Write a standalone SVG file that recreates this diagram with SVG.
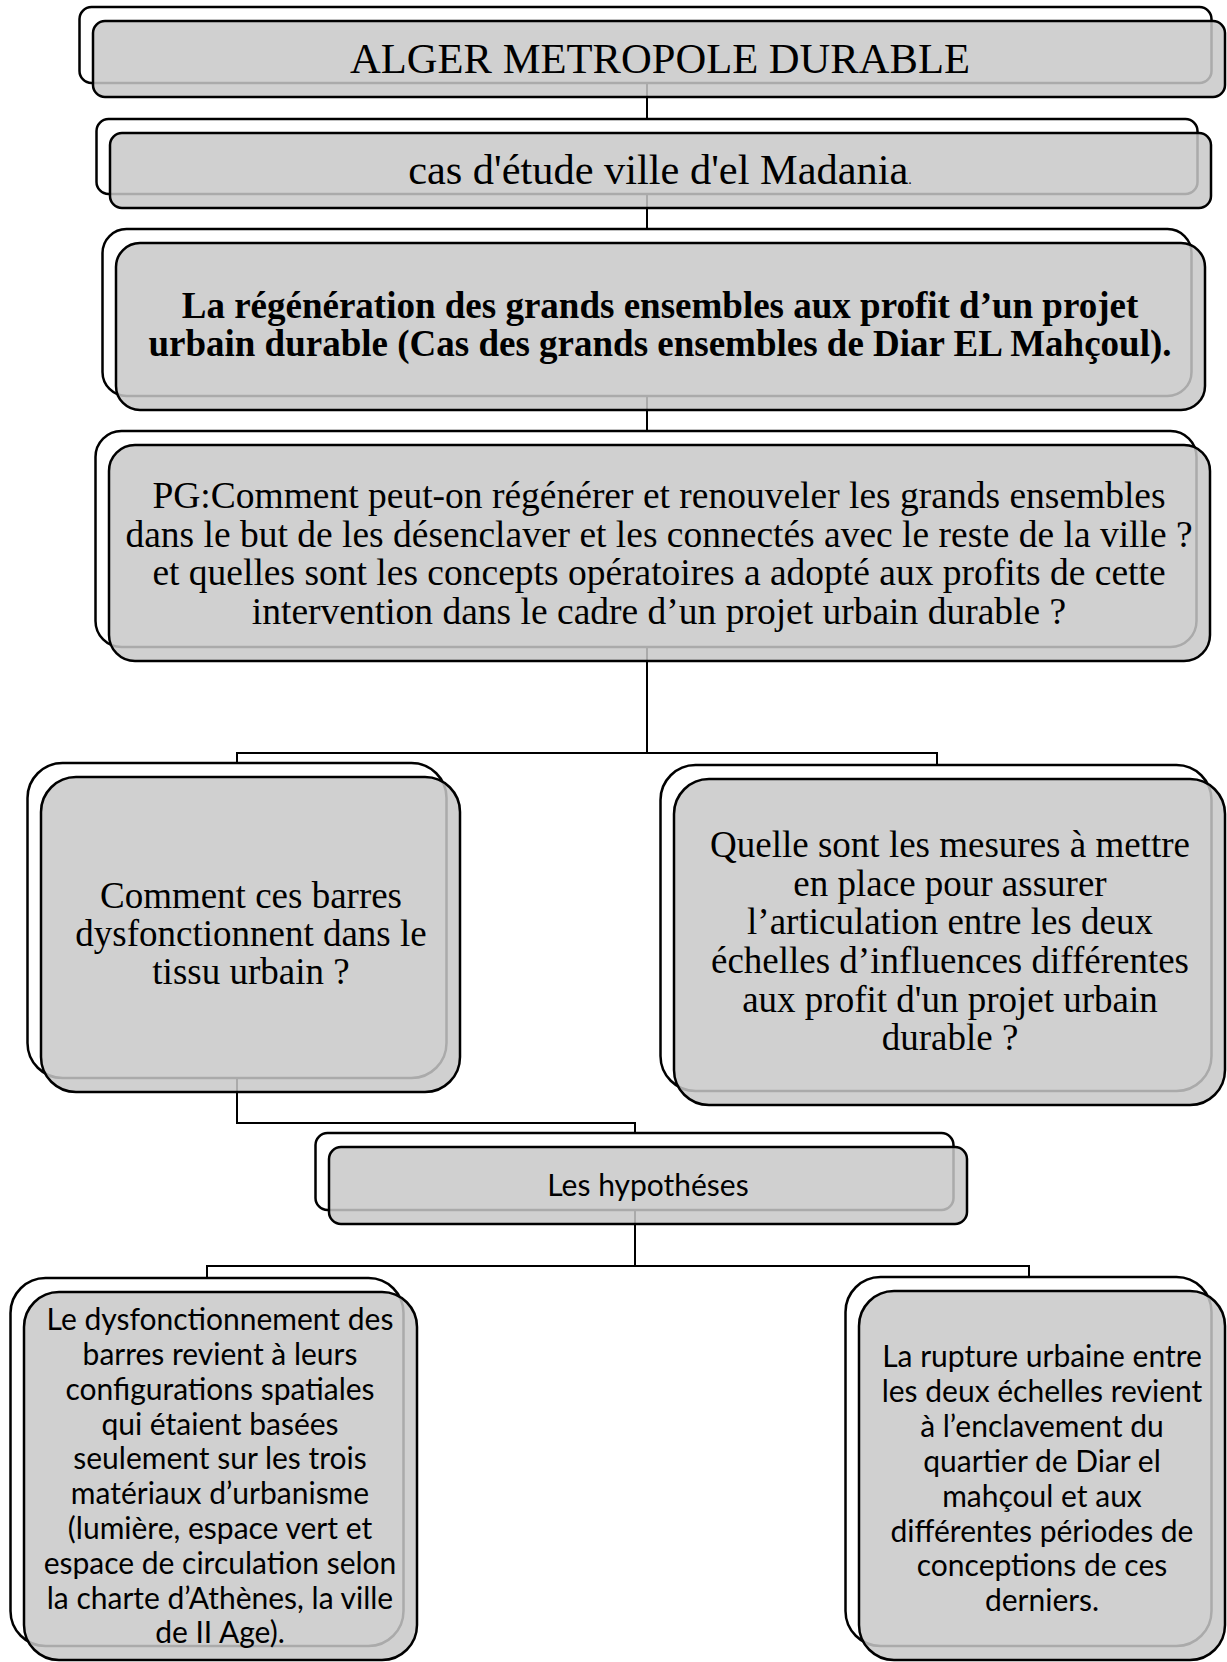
<svg xmlns="http://www.w3.org/2000/svg" width="1227" height="1662" viewBox="0 0 1227 1662">
<style>
.back{fill:#fff;stroke:#000;stroke-width:2.5}
.front{fill:#c8c8c8;fill-opacity:.85;stroke:#000;stroke-width:2.5}
.conn{fill:none;stroke:#000;stroke-width:2}
.serif{font-family:"Liberation Serif","Times New Roman",serif;fill:#000;text-anchor:middle}
.sans{font-family:Lato,"Open Sans",sans-serif;fill:#000;text-anchor:middle;font-size:30px}
</style>
<rect width="1227" height="1662" fill="#fff"/>
<g id="connectors">
<path class="conn" d="M647 60 V150"/>
<path class="conn" d="M647 170 V320"/>
<path class="conn" d="M647 330 V540"/>
<path class="conn" d="M647 550 V753 H237 V900"/>
<path class="conn" d="M647 550 V753 H937 V900"/>
<path class="conn" d="M237 930 V1123 H635 V1180"/>
<path class="conn" d="M635 1185 V1266 H207 V1400"/>
<path class="conn" d="M635 1185 V1266 H1029 V1400"/>
</g>
<g id="n1">
<rect class="back" x="79.5" y="7" width="1132" height="76" rx="12"/>
<rect class="front" x="93" y="21" width="1132" height="76" rx="12"/>
<text class="serif" x="660" y="73" font-size="42.6">ALGER METROPOLE DURABLE</text>
</g>
<g id="n2">
<rect class="back" x="96.5" y="119" width="1101" height="75" rx="12"/>
<rect class="front" x="110" y="133" width="1101" height="75" rx="12"/>
<text class="serif" x="660" y="184" font-size="42.4">cas d'étude ville d'el Madania<tspan font-size="14">.</tspan></text>
</g>
<g id="n3">
<rect class="back" x="102.5" y="229" width="1089" height="167" rx="24"/>
<rect class="front" x="116" y="243" width="1089" height="167" rx="24"/>
<text class="serif" font-size="37" font-weight="bold"><tspan x="660" y="318">La régénération des grands ensembles aux profit d’un projet</tspan><tspan x="660" y="356">urbain durable (Cas des grands ensembles de Diar EL Mahçoul).</tspan></text>
</g>
<g id="n4">
<rect class="back" x="95.5" y="431" width="1101" height="216" rx="26"/>
<rect class="front" x="109" y="445" width="1101" height="216" rx="26"/>
<text class="serif" font-size="37.5"><tspan x="659" y="508">PG:Comment peut-on régénérer et renouveler les grands ensembles</tspan><tspan x="659" y="546.5">dans le but de les désenclaver et les connectés avec le reste de la ville ?</tspan><tspan x="659" y="585">et quelles sont les concepts opératoires a adopté aux profits de cette</tspan><tspan x="659" y="623.5">intervention dans le cadre d’un projet urbain durable ?</tspan></text>
</g>
<g id="n5">
<rect class="back" x="27.5" y="763" width="419" height="315" rx="35"/>
<rect class="front" x="41" y="777" width="419" height="315" rx="35"/>
<text class="serif" font-size="37"><tspan x="251" y="908">Comment ces barres</tspan><tspan x="251" y="946">dysfonctionnent dans le</tspan><tspan x="251" y="984">tissu urbain ?</tspan></text>
</g>
<g id="n6">
<rect class="back" x="660.5" y="765" width="551" height="326" rx="35"/>
<rect class="front" x="674" y="779" width="551" height="326" rx="35"/>
<text class="serif" font-size="37"><tspan x="950" y="857">Quelle sont les mesures à mettre</tspan><tspan x="950" y="895.5">en place pour assurer</tspan><tspan x="950" y="934">l’articulation entre les deux</tspan><tspan x="950" y="973">échelles d’influences différentes</tspan><tspan x="950" y="1011.5">aux profit d'un projet urbain</tspan><tspan x="950" y="1050">durable ?</tspan></text>
</g>
<g id="n7">
<rect class="back" x="315.5" y="1133" width="638" height="77" rx="12"/>
<rect class="front" x="329" y="1147" width="638" height="77" rx="12"/>
<text class="sans" x="648" y="1196">Les hypothéses</text>
</g>
<g id="n8">
<rect class="back" x="10.5" y="1278" width="393" height="368" rx="35"/>
<rect class="front" x="24" y="1292" width="393" height="368" rx="35"/>
<text class="sans"><tspan x="220" y="1330">Le dysfonctionnement des</tspan><tspan x="220" y="1365">barres revient à leurs</tspan><tspan x="220" y="1399.5">configurations spatiales</tspan><tspan x="220" y="1434.5">qui étaient basées</tspan><tspan x="220" y="1469">seulement sur les trois</tspan><tspan x="220" y="1504">matériaux d’urbanisme</tspan><tspan x="220" y="1539">(lumière, espace vert et</tspan><tspan x="220" y="1573.5">espace de circulation selon</tspan><tspan x="220" y="1608.5">la charte d’Athènes, la ville</tspan><tspan x="220" y="1643">de II Age).</tspan></text>
</g>
<g id="n9">
<rect class="back" x="845.5" y="1277" width="366" height="369" rx="35"/>
<rect class="front" x="859" y="1291" width="366" height="369" rx="35"/>
<text class="sans"><tspan x="1042" y="1367">La rupture urbaine entre</tspan><tspan x="1042" y="1402">les deux échelles revient</tspan><tspan x="1042" y="1437">à l’enclavement du</tspan><tspan x="1042" y="1472">quartier de Diar el</tspan><tspan x="1042" y="1507">mahçoul et aux</tspan><tspan x="1042" y="1541.5">différentes périodes de</tspan><tspan x="1042" y="1576">conceptions de ces</tspan><tspan x="1042" y="1611">derniers.</tspan></text>
</g>
</svg>
